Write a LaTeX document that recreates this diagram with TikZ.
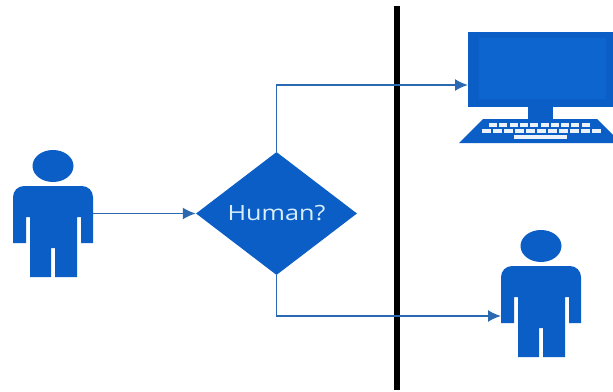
\documentclass[tikz,border=0pt]{standalone}
\usepackage{fontspec}
\setmainfont{Open Sans}
\usetikzlibrary{arrows.meta}
\usetikzlibrary{shapes.geometric}
\definecolor{DarkBlue}{HTML}{0B5EC6}
\definecolor{InnerBlue}{HTML}{0D65D0}
\definecolor{LineBlue}{HTML}{2A68B2}
\definecolor{LightText}{HTML}{D8EEFA}
\tikzset{
  flowline/.style={line width=1.9pt,LineBlue,-{Latex[length=13pt,width=12pt]}},
  decision/.style={diamond,fill=DarkBlue,inner sep=0pt,minimum width=161pt,minimum height=123pt,
    text=LightText,font=\fontsize{21}{24}\selectfont},
  personbox/.style={inner sep=0pt,minimum width=80pt,minimum height=127pt},
  keycap/.style={fill=white!92!DarkBlue},
}
% figure drawn around the top left of its box
\newcommand{\personfig}[1]{%
  \begin{scope}[shift={#1}]
    \fill[DarkBlue] (53,166) ellipse (20.5 and 16);
    \fill[DarkBlue] (13,243) -- (13,198) [rounded corners=11pt] -- (13,186) -- (93,186) [sharp corners] -- (93,243) -- (81,243) -- (81,217)
      -- (77,217) -- (77,277) -- (55,277) -- (55,248) -- (51,248) -- (51,277) -- (30,277) -- (30,217) -- (26,217) -- (26,243) -- cycle;
  \end{scope}
}

\begin{document}
\begin{tikzpicture}[x=1pt,y=-1pt]
  \clip (0,0) rectangle (613,391);
  \fill[white] (0,0) rectangle (613,391);

  \node[personbox] (PersonOne) at (53,213.5) {};
  \node[personbox] (PersonTwo) at (541,293.5) {};
  \node[decision] (Human) at (276.5,213.5) {\scalebox{1.2}[1]{Human?}};
  \node[inner sep=0pt,minimum width=145pt,minimum height=75pt,fill=DarkBlue] (Monitor) at (540.5,69.5) {};
  \coordinate (MonitorIn) at (468,85);
  \coordinate (PersonIn) at (501,316);
  \coordinate (WallTop) at (397,6);
  \coordinate (WallBottom) at (397,390);

  \personfig{(0,0)}
  \personfig{(488,80)}

  % computer
  \fill[InnerBlue] (479,38) rectangle (606,99);
  \fill[DarkBlue] (528,107) rectangle (553,119);
  \fill[DarkBlue] (483,119) -- (597,119) -- (621,143) -- (459,143) -- cycle;
  \foreach \x in {0,1,...,9}{%
    \fill[keycap] (489+10.3*\x,123) rectangle +(8,4.2);
  }
  \foreach \x in {0,1,...,10}{%
    \fill[keycap] (482+11*\x,129) rectangle +(8.5,4.2);
  }
  \fill[keycap] (514,135) rectangle (567,138.8);

  \draw[line width=6pt,black] (WallTop) -- (WallBottom);

  \draw[flowline] (PersonOne.east) -- (Human.west);
  \draw[flowline] (Human.north) |- (MonitorIn);
  \draw[flowline] (Human.south) |- (PersonIn);
\end{tikzpicture}
\end{document}
